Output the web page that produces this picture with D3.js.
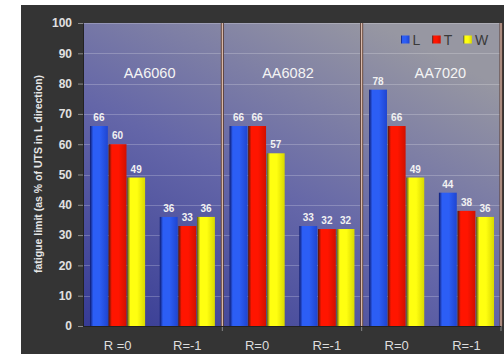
<!DOCTYPE html>
<html>
<head>
<meta charset="utf-8">
<script src="https://cdn.jsdelivr.net/npm/d3@7"></script>
<style>
  html, body { margin: 0; padding: 0; background: #ffffff; }
  svg { display: block; }
</style>
</head>
<body>
<svg id="chart" width="504" height="354"></svg>
<script>
// Fatigue limit by alloy, load ratio and direction
const categories = ["R =0", "R=-1", "R=0", "R=-1", "R=0", "R=-1"];
const alloys = ["AA6060", "AA6082", "AA7020"];
const seriesNames = ["L", "T", "W"];
const valuesL = [66, 36, 66, 33, 78, 44];
const valuesT = [60, 33, 66, 32, 66, 38];
const valuesW = [49, 36, 57, 32, 49, 36];
const yTicks = [0, 10, 20, 30, 40, 50, 60, 70, 80, 90, 100];

const series = [valuesL, valuesT, valuesW];

const svg = d3.select("#chart");
const plot = { left: 83, right: 501, top: 23, bottom: 326 };

// Bar gradients: dark edge, bright body, slightly darker right side
const barColors = [
  { dark: "#0d1a6e", bright: "#2c5ef5", mid: "#1f45d0" },
  { dark: "#4a1a0c", bright: "#ff1500", mid: "#d01000" },
  { dark: "#5a5a10", bright: "#ffff10", mid: "#d8d800" }
];

const defs = svg.append("defs");
barColors.forEach((c, i) => {
  const g = defs.append("linearGradient").attr("id", "bar" + i)
    .attr("x1", "0%").attr("x2", "100%").attr("y1", "0%").attr("y2", "0%");
  g.append("stop").attr("offset", "0%").attr("stop-color", c.dark);
  g.append("stop").attr("offset", "18%").attr("stop-color", c.bright);
  g.append("stop").attr("offset", "55%").attr("stop-color", c.bright);
  g.append("stop").attr("offset", "100%").attr("stop-color", c.mid);
});

const bg = defs.append("linearGradient").attr("id", "plotbg")
  .attr("x1", "0%").attr("y1", "100%").attr("x2", "70%").attr("y2", "0%");
bg.append("stop").attr("offset", "0%").attr("stop-color", "#363b94");
bg.append("stop").attr("offset", "50%").attr("stop-color", "#6466a8");
bg.append("stop").attr("offset", "100%").attr("stop-color", "#9797a2");

// Dark frame
svg.append("rect").attr("x", 21).attr("y", 5).attr("width", 483).attr("height", 349)
  .attr("fill", "#343434");

// Scales
const y = d3.scaleLinear().domain([0, 100]).range([plot.bottom, plot.top]);
const x0 = d3.scaleBand().domain(d3.range(categories.length))
  .range([plot.left, plot.right]).paddingInner(0.21).paddingOuter(0.1);
const x1 = d3.scaleBand().domain(d3.range(series.length))
  .range([0, x0.bandwidth()]).paddingInner(0.04);
const panel = d3.scaleBand().domain(d3.range(alloys.length))
  .range([plot.left, plot.right]);

// Plot background
svg.append("rect").attr("x", plot.left).attr("y", plot.top)
  .attr("width", plot.right - plot.left).attr("height", plot.bottom - plot.top)
  .attr("fill", "url(#plotbg)");

// Gridlines
svg.append("g").selectAll("line").data(yTicks.filter(d => d > 0)).join("line")
  .attr("x1", plot.left).attr("x2", plot.right)
  .attr("y1", d => Math.round(y(d)) + 0.5).attr("y2", d => Math.round(y(d)) + 0.5)
  .attr("stroke", "#ffffff").attr("stroke-opacity", 0.22).attr("stroke-width", 1);

// Y axis
const yAxis = svg.append("g").attr("transform", `translate(${plot.left},0)`)
  .call(d3.axisLeft(y).tickValues(yTicks).tickSize(5).tickPadding(6));
yAxis.select(".domain").attr("stroke", "#222").attr("stroke-width", 1);
yAxis.selectAll(".tick line").attr("stroke", "#888");
yAxis.selectAll(".tick text")
  .attr("fill", "#e0e0e0").attr("font-family", "Arial, 'Liberation Sans', sans-serif")
  .attr("font-size", 12).attr("font-weight", "bold");

// Y axis title
svg.append("text")
  .attr("transform", `translate(42,174) rotate(-90)`)
  .attr("text-anchor", "middle")
  .attr("fill", "#e6e6e6").attr("font-family", "Arial, 'Liberation Sans', sans-serif")
  .attr("font-size", 10.5).attr("font-weight", "bold")
  .text("fatigue limit (as % of UTS in L direction)");

// Bars
const groups = svg.append("g").selectAll("g").data(categories).join("g")
  .attr("transform", (d, i) => `translate(${x0(i)},0)`);
groups.each(function(cat, ci) {
  const g = d3.select(this);
  series.forEach((vals, si) => {
    const v = vals[ci];
    g.append("rect")
      .attr("x", x1(si)).attr("width", x1.bandwidth())
      .attr("y", y(v)).attr("height", y(0) - y(v))
      .attr("fill", `url(#bar${si})`);
    g.append("text")
      .attr("x", x1(si) + x1.bandwidth() / 2).attr("y", y(v) - 5)
      .attr("text-anchor", "middle")
      .attr("fill", "#f2f2f2").attr("font-family", "Arial, 'Liberation Sans', sans-serif")
      .attr("font-size", 10).attr("font-weight", "bold")
      .text(v);
  });
});

// Panel dividers and right border
const dividerX = [panel(1), panel(2), plot.right];
dividerX.forEach(dx => {
  svg.append("line").attr("x1", dx).attr("x2", dx).attr("y1", plot.top).attr("y2", plot.bottom)
    .attr("stroke", "#5a3c32").attr("stroke-width", 3);
  svg.append("line").attr("x1", dx).attr("x2", dx).attr("y1", plot.top).attr("y2", plot.bottom)
    .attr("stroke", "#e2c2b4").attr("stroke-width", 1.2);
  svg.append("line").attr("x1", dx).attr("x2", dx).attr("y1", plot.bottom).attr("y2", plot.bottom + 5)
    .attr("stroke", "#888").attr("stroke-width", 1);
});

// Baseline
svg.append("line").attr("x1", plot.left).attr("x2", plot.right)
  .attr("y1", plot.bottom + 0.5).attr("y2", plot.bottom + 0.5)
  .attr("stroke", "#222").attr("stroke-width", 1);

// Alloy labels
const alloyShift = [-3, -4, 9];
svg.append("g").selectAll("text").data(alloys).join("text")
  .attr("x", (d, i) => panel(i) + panel.bandwidth() / 2 + alloyShift[i])
  .attr("y", 78)
  .attr("text-anchor", "middle")
  .attr("fill", "#f4f4f4").attr("font-family", "Arial, 'Liberation Sans', sans-serif")
  .attr("font-size", 14.5)
  .text(d => d);

// Category labels
svg.append("g").selectAll("text").data(categories).join("text")
  .attr("x", (d, i) => x0(i) + x0.bandwidth() / 2)
  .attr("y", 350)
  .attr("text-anchor", "middle")
  .attr("fill", "#dedede").attr("font-family", "Arial, 'Liberation Sans', sans-serif")
  .attr("font-size", 13)
  .text(d => d);

// Legend
const legend = svg.append("g").attr("transform", "translate(401,35)");
seriesNames.forEach((name, i) => {
  const lg = legend.append("g").attr("transform", `translate(${i * 31.2},0)`);
  lg.append("rect").attr("x", 0).attr("y", 0.5).attr("width", 8.5).attr("height", 8)
    .attr("fill", `url(#bar${i})`);
  lg.append("text").attr("x", 11.5).attr("y", 10)
    .attr("fill", "#3a3a3a").attr("font-family", "Arial, 'Liberation Sans', sans-serif")
    .attr("font-size", 14)
    .text(name);
});
</script>
</body>
</html>
